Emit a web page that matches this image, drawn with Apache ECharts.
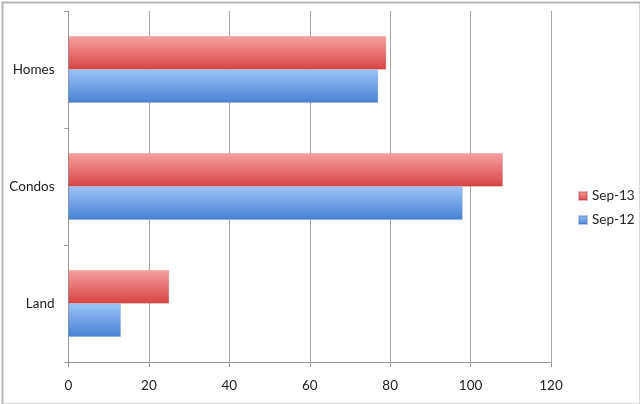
<!DOCTYPE html>
<html><head><meta charset="utf-8">
<script src="https://cdn.jsdelivr.net/npm/echarts@6/dist/echarts.min.js"></script>
<style>html,body{margin:0;padding:0;background:#fff}#c{width:640px;height:404px}</style>
</head><body><div id="c"></div>
<script>
const categories = ['Land', 'Condos', 'Homes'];
const sep12 = [13, 98, 77];
const sep13 = [25, 108, 79];
const xTicks = [0, 20, 40, 60, 80, 100, 120];

const chart = echarts.init(document.getElementById('c'), null, {renderer: 'canvas'});
const font = 'Lato, "Open Sans", sans-serif';
function grad(top, bottom) {
  return new echarts.graphic.LinearGradient(0, 0, 0, 1, [{offset: 0, color: top}, {offset: 1, color: bottom}]);
}
chart.setOption({
  animation: false,
  graphic: [{type: 'rect', left: 0, top: 0, shape: {x: 1, y: 1, width: 638, height: 402},
    style: {fill: 'none', stroke: '#b5b5b5', lineWidth: 2}, silent: true}],
  grid: {left: 68.5, right: 89, top: 11, bottom: 42, containLabel: false},
  legend: {
    data: ['Sep-13', 'Sep-12'], orient: 'vertical', left: 573, top: 184,
    itemWidth: 8, itemHeight: 8, itemGap: 10, icon: 'rect',
    textStyle: {fontFamily: font, fontSize: 13.5, color: '#222'}
  },
  xAxis: {
    type: 'value', min: xTicks[0], max: xTicks[xTicks.length - 1], interval: 20,
    axisLine: {show: true, lineStyle: {color: '#999', width: 1}},
    axisTick: {show: true, length: 5, lineStyle: {color: '#999'}},
    axisLabel: {fontFamily: font, fontSize: 13.5, color: '#222', margin: 17},
    splitLine: {show: true, lineStyle: {color: '#a8a8a8', width: 1}}
  },
  yAxis: {
    type: 'category', data: categories,
    axisLine: {show: true, lineStyle: {color: '#999', width: 1}},
    axisTick: {show: true, length: 4, lineStyle: {color: '#999'}},
    axisLabel: {fontFamily: font, fontSize: 13.5, color: '#222', margin: 14}
  },
  series: [
    {name: 'Sep-13', type: 'bar', data: sep13, barGap: '0%', barCategoryGap: '43%',
     itemStyle: {color: grad('#f7a0a0', '#d64444'), borderColor: 'rgba(170,60,60,0.35)', borderWidth: 0.5},
     emphasis: {disabled: true}},
    {name: 'Sep-12', type: 'bar', data: sep12, barGap: '0%', barCategoryGap: '43%',
     itemStyle: {color: grad('#9cc3f7', '#4682d2'), borderColor: 'rgba(70,110,170,0.35)', borderWidth: 0.5},
     emphasis: {disabled: true}}
  ]
});
</script></body></html>
